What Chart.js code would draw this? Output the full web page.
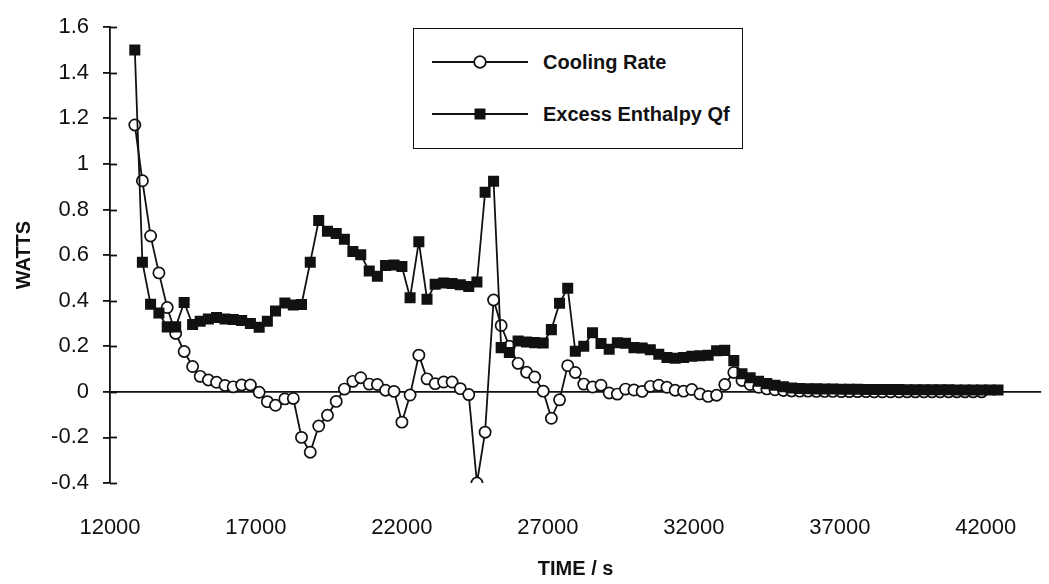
<!DOCTYPE html>
<html>
<head>
<meta charset="utf-8">
<script src="https://cdn.jsdelivr.net/npm/chart.js@4"></script>
<style>
  html, body { margin: 0; padding: 0; background: #fff; }
  #wrap { position: relative; width: 1049px; height: 584px; }
  #legend {
    position: absolute; left: 413px; top: 28px; width: 328px; height: 119px;
    border: 1.8px solid #111; background: #fff;
    font-family: "Liberation Sans", Arial, sans-serif; font-weight: bold; font-size: 20px; color: #111;
  }
  .row { position: absolute; left: 0; height: 24px; display: flex; align-items: center; }
  .row svg { position: absolute; left: 18px; top: 0; }
  .row span { position: absolute; left: 129px; top: 0; line-height: 24px; white-space: nowrap; }
</style>
</head>
<body>
<div id="wrap">
  <canvas id="c" width="1049" height="584"></canvas>
  <div id="legend">
    <div class="row" style="top:21px;width:328px;">
      <svg width="100" height="24"><line x1="0" y1="12" x2="96" y2="12" stroke="#111" stroke-width="1.8"/><circle cx="48" cy="12" r="5.8" fill="#fff" stroke="#111" stroke-width="1.8"/></svg>
      <span>Cooling Rate</span>
    </div>
    <div class="row" style="top:73px;width:328px;">
      <svg width="100" height="24"><line x1="0" y1="12" x2="96" y2="12" stroke="#111" stroke-width="1.8"/><rect x="42.5" y="6.5" width="11" height="11" fill="#111"/></svg>
      <span>Excess Enthalpy Qf</span>
    </div>
  </div>
</div>
<script>
// Time axis (s), one entry per sample
const times = [12850,13110,13390,13675,13960,14250,14540,14830,15090,15370,
  15650,15940,16220,16510,16810,17110,17390,17670,17990,18280,
  18560,18860,19150,19450,19750,20030,20320,20590,20880,21160,
  21440,21730,22000,22280,22580,22860,23140,23430,23720,24000,
  24290,24570,24850,25140,25400,25680,25980,26270,26550,26840,
  27120,27400,27680,27940,28230,28530,28820,29100,29380,29660,
  29950,30230,30510,30800,31080,31360,31650,31930,32210,32490,
  32780,33060,33370,33650,33930,34220,34500,34780,35070,35350,
  35630,35910,36200,36480,36760,37050,37330,37610,37900,38180,
  38460,38740,39030,39310,39590,39880,40160,40440,40730,41010,
  41290,41570,41860,42140,42420,42710];

// Cooling Rate (W)
const coolingRate = [1.171,0.926,0.684,0.522,0.370,0.256,0.177,0.111,0.068,0.052,
  0.042,0.028,0.022,0.030,0.030,-0.002,-0.043,-0.059,-0.031,-0.029,
  -0.200,-0.265,-0.150,-0.103,-0.042,0.012,0.046,0.062,0.034,0.032,
  0.007,0.002,-0.133,-0.014,0.161,0.057,0.036,0.043,0.043,0.014,
  -0.012,-0.400,-0.177,0.403,0.291,0.200,0.125,0.086,0.065,0.003,
  -0.116,-0.035,0.115,0.085,0.034,0.021,0.029,-0.005,-0.010,0.012,
  0.008,0.002,0.024,0.029,0.020,0.007,0.003,0.010,-0.009,-0.020,
  -0.015,0.032,0.085,0.050,0.032,0.020,0.013,0.009,0.006,0.004,
  0.003,0.003,0.002,0.002,0.002,0.001,0.001,0.001,0.001,0.000,
  0.000,0.000,0.000,0.000,0.000,0.000,0.000,0.000,0.000,0.000,
  0.000,0.000,0.000];

// Excess Enthalpy Qf (W)
const excessEnthalpy = [1.500,0.569,0.384,0.346,0.285,0.285,0.392,0.295,0.310,0.320,
  0.326,0.320,0.317,0.313,0.300,0.283,0.310,0.355,0.390,0.381,
  0.383,0.569,0.752,0.705,0.695,0.670,0.616,0.602,0.530,0.507,
  0.554,0.557,0.550,0.413,0.659,0.406,0.472,0.478,0.475,0.470,
  0.462,0.482,0.876,0.924,0.194,0.173,0.223,0.219,0.216,0.214,
  0.273,0.389,0.455,0.178,0.200,0.259,0.212,0.187,0.215,0.213,
  0.194,0.192,0.185,0.165,0.151,0.147,0.151,0.156,0.158,0.161,
  0.180,0.182,0.137,0.079,0.062,0.046,0.036,0.029,0.022,0.017,
  0.015,0.014,0.013,0.012,0.012,0.011,0.011,0.011,0.010,0.010,
  0.010,0.010,0.010,0.009,0.009,0.009,0.009,0.009,0.009,0.008,
  0.008,0.008,0.008,0.008,0.008];

const xTicks = [12000,17000,22000,27000,32000,37000,42000];
const yTicks = [-0.4,-0.2,0,0.2,0.4,0.6,0.8,1,1.2,1.4,1.6];

const FONT = '"Liberation Sans", Arial, sans-serif';
const pts = (ys) => ys.map((v, i) => ({ x: times[i], y: v }));

const innerTicks = {
  id: 'innerTicks',
  afterDraw(chart) {
    const ctx = chart.ctx, y = chart.scales.y;
    ctx.save();
    ctx.strokeStyle = '#111';
    ctx.lineWidth = 1.8;
    yTicks.forEach(v => {
      const py = Math.round(y.getPixelForValue(v)) + 0.5;
      ctx.beginPath();
      ctx.moveTo(y.right, py);
      ctx.lineTo(y.right + 7, py);
      ctx.stroke();
    });
    ctx.restore();
  }
};

new Chart(document.getElementById('c'), {
  type: 'line',
  data: {
    datasets: [
      {
        label: 'Excess Enthalpy Qf',
        data: pts(excessEnthalpy),
        borderColor: '#111', borderWidth: 1.8,
        pointStyle: 'rect', pointRadius: 7.8, pointBackgroundColor: '#111', pointBorderColor: '#111', pointBorderWidth: 0,
        tension: 0, order: 0
      },
      {
        label: 'Cooling Rate',
        data: pts(coolingRate),
        borderColor: '#111', borderWidth: 1.8,
        pointStyle: 'circle', pointRadius: 5.6, pointBackgroundColor: '#fff', pointBorderColor: '#111', pointBorderWidth: 1.7,
        tension: 0, order: 1
      }
    ]
  },
  options: {
    responsive: false,
    animation: false,
    layout: { padding: { top: 20, right: 0, left: 0, bottom: 0 } },
    plugins: { legend: { display: false }, tooltip: { enabled: false } },
    scales: {
      x: {
        type: 'linear', min: 12000, max: 43900,
        afterBuildTicks: (s) => { s.ticks = xTicks.map(v => ({ value: v })); },
        afterFit: (s) => { s.height = 101; },
        grid: { display: false },
        border: { display: false },
        ticks: { color: '#111', font: { family: FONT, size: 22 }, padding: 24, maxRotation: 0, autoSkip: false,
                 callback: (v) => String(v) },
        title: { display: true, text: 'TIME / s', color: '#111', font: { family: FONT, size: 20, weight: 'bold' }, padding: { top: 0, bottom: 3 } }
      },
      y: {
        type: 'linear', min: -0.4, max: 1.6,
        afterBuildTicks: (s) => { s.ticks = yTicks.map(v => ({ value: v })); },
        afterFit: (s) => { s.width = 110; },
        grid: {
          drawOnChartArea: true,
          color: (ctx) => (ctx.tick && ctx.tick.value === 0) ? '#111' : 'rgba(0,0,0,0)',
          lineWidth: 1.8,
          tickColor: '#111', tickLength: 7, drawTicks: true
        },
        border: { display: true, color: '#111', width: 1.8 },
        ticks: { color: '#111', font: { family: FONT, size: 22 }, padding: 14,
                 callback: (v) => String(Math.round(v * 10) / 10) },
        title: { display: true, text: 'WATTS', color: '#111', font: { family: FONT, size: 20, weight: 'bold' }, padding: { top: 12, bottom: 0 } }
      }
    }
  },
  plugins: [innerTicks]
});
</script>
</body>
</html>
